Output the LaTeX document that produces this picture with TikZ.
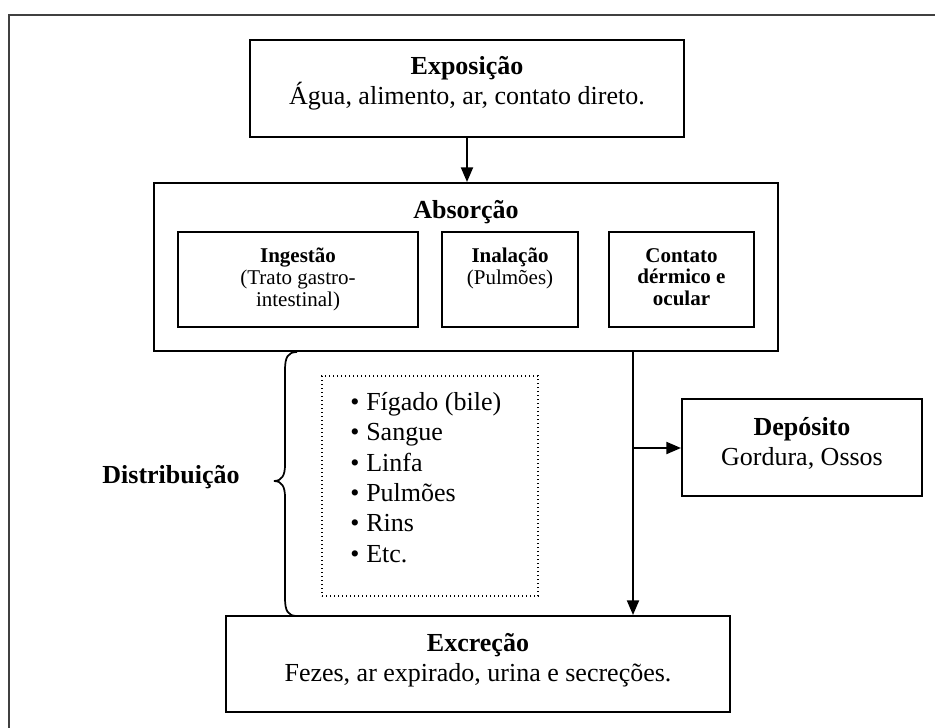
\documentclass[tikz,border=0pt]{standalone}
\usepackage{fontspec}
\setmainfont{Liberation Serif}
\usetikzlibrary{arrows.meta}

\begin{document}
\begin{tikzpicture}[x=0.75pt, y=-0.75pt,
  box/.style={draw, line width=1.5pt, inner sep=0pt},
  bigtext/.style={font=\fontsize{19.5}{22.5}\selectfont, align=center, inner sep=0pt},
  smalltext/.style={font=\fontsize{15.75}{16.2}\selectfont, align=center, inner sep=0pt},
  arr/.style={line width=1.5pt, -{Triangle[length=11pt, width=9pt]}},
  link/.style={line width=1.5pt}]

% page area and its frame (top and left edges)
\useasboundingbox (0,0) rectangle (935,728);
\draw[line width=1.6pt, black!75] (9,740) -- (9,15) -- (945,15);

% exposure
\node[box, minimum width=325.5pt, minimum height=72.75pt] (exp) at (467,88.5) {};
\node[bigtext] (expt) at (467,83) {\textbf{Exposição}\\Água, alimento, ar, contato direto.};

% absorption with its three routes
\node[box, minimum width=468pt, minimum height=126pt] (abs) at (466,267) {};
\node[bigtext, font=\fontsize{19.5}{22.5}\selectfont\bfseries] (abst) at (466,212) {Absorção};

\node[box, minimum width=180pt, minimum height=71.25pt] (ing) at (298,279.5) {};
\node[smalltext, anchor=north] (ingt) at (298,248) {\textbf{Ingestão}\\(Trato gastro-\\intestinal)};

\node[box, minimum width=102pt, minimum height=71.25pt] (ina) at (510,279.5) {};
\node[smalltext, anchor=north] (inat) at (510,248) {\textbf{Inalação}\\(Pulmões)};

\node[box, minimum width=108.75pt, minimum height=71.25pt] (con) at (681.5,279.5) {};
\node[smalltext, anchor=north, font=\fontsize{15.75}{16.2}\selectfont\bfseries] (cont) at (681.5,248) {Contato\\dérmico e\\ocular};

% distribution
\node[bigtext, font=\fontsize{19.5}{22.5}\selectfont\bfseries] (dist) at (171,477) {Distribuição};
\draw[line width=1.3pt] (297,352) .. controls (288,352) and (285,357) .. (285,370)
  -- (285,465) .. controls (285,475) and (282,481) .. (274,481)
  .. controls (282,481) and (285,487) .. (285,497)
  -- (285,598) .. controls (285,611) and (288,616) .. (297,616);

\node[draw, dotted, line width=1pt, minimum width=162pt, minimum height=165pt] (organs) at (430,486) {};
\node[anchor=north west, inner sep=0pt, align=left,
      font=\fontsize{19.5}{22.8}\selectfont] (organst) at (350,392)
  {\makebox[12pt][l]{\textbullet}Fígado (bile)\\
   \makebox[12pt][l]{\textbullet}Sangue\\
   \makebox[12pt][l]{\textbullet}Linfa\\
   \makebox[12pt][l]{\textbullet}Pulmões\\
   \makebox[12pt][l]{\textbullet}Rins\\
   \makebox[12pt][l]{\textbullet}Etc.};

% storage
\node[box, minimum width=180pt, minimum height=72.75pt] (dep) at (802,447.5) {};
\node[bigtext] (dept) at (802,443) {\textbf{Depósito}\\Gordura, Ossos};

% excretion
\node[box, minimum width=378pt, minimum height=72pt] (exc) at (478,664) {};
\node[bigtext] (exct) at (478,660) {\textbf{Excreção}\\Fezes, ar expirado, urina e secreções.};

% connectors
\coordinate (drop) at (633,0);
\coordinate (branch) at (633,448);
\draw[arr] (exp.south) -- (exp.south |- abs.north);
\draw[link] (abs.south -| drop) -- (branch);
\draw[arr] (branch) -- (exc.north -| drop);
\draw[arr] (branch) -- (dep.west |- branch);

\end{tikzpicture}
\end{document}
